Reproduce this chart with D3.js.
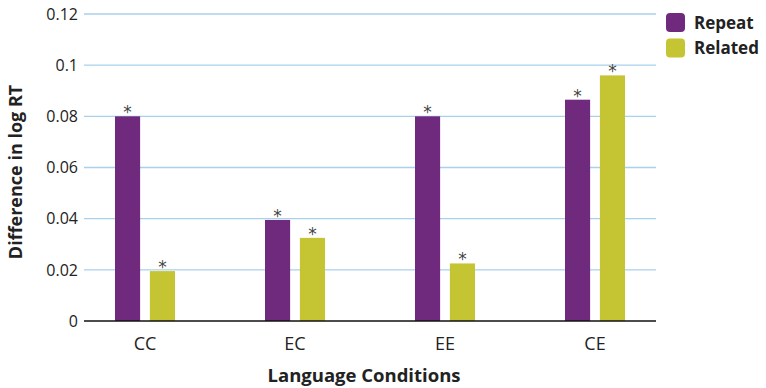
<!DOCTYPE html>
<html>
<head>
<meta charset="utf-8">
<script src="https://cdn.jsdelivr.net/npm/d3@7"></script>
<style>
  html, body { margin: 0; padding: 0; background: #fff; }
  svg { display: block; font-family: "Open Sans", "Noto Sans", sans-serif; }
</style>
</head>
<body>
<svg id="chart" width="766" height="388"></svg>
<script>
// Language conditions on the x axis
const categories = ["CC", "EC", "EE", "CE"];
// Priming effect (difference in log RT) per condition
const repeatValues  = [0.080, 0.0395, 0.080, 0.0865];
const relatedValues = [0.0195, 0.0325, 0.0225, 0.096];
const seriesNames = ["Repeat", "Related"];
const yTicks = [0, 0.02, 0.04, 0.06, 0.08, 0.1, 0.12];
const yTickLabels = ["0", "0.02", "0.04", "0.06", "0.08", "0.1", "0.12"];

const colors = { Repeat: "#6f297d", Related: "#c5c432" };

const svg = d3.select("#chart");

const x = d3.scaleBand().domain(categories).range([70, 670]).paddingInner(0).paddingOuter(0);
const sub = d3.scaleBand().domain(seriesNames).range([0, 60]).paddingInner(0.28);
const y = d3.scaleLinear().domain([0, 0.12]).range([321, 14]);

const gridLeft = 84, gridRight = 656;

// horizontal gridlines
svg.append("g")
  .selectAll("line")
  .data(yTicks.filter(d => d > 0))
  .join("line")
  .attr("x1", gridLeft).attr("x2", gridRight)
  .attr("y1", d => y(d)).attr("y2", d => y(d))
  .attr("stroke", "#a9d1ec").attr("stroke-width", 1.3);

// y tick labels
svg.append("g")
  .selectAll("text")
  .data(yTicks)
  .join("text")
  .attr("x", 78)
  .attr("y", d => y(d))
  .attr("dy", "0.36em")
  .attr("text-anchor", "end")
  .attr("font-size", 16)
  .attr("fill", "#222")
  .text((d, i) => yTickLabels[i]);

// bars
const rows = categories.map((c, i) => ({ cat: c, values: [
  { key: "Repeat", value: repeatValues[i] },
  { key: "Related", value: relatedValues[i] }
]}));

const groups = svg.append("g")
  .selectAll("g")
  .data(rows)
  .join("g")
  .attr("transform", d => `translate(${x(d.cat) + (x.bandwidth() - 60) / 2},0)`);

groups.selectAll("rect")
  .data(d => d.values)
  .join("rect")
  .attr("x", d => sub(d.key))
  .attr("width", sub.bandwidth())
  .attr("y", d => y(d.value))
  .attr("height", d => y(0) - y(d.value))
  .attr("fill", d => colors[d.key]);

// significance markers
groups.selectAll("text.sig")
  .data(d => d.values)
  .join("text")
  .attr("class", "sig")
  .attr("x", d => sub(d.key) + sub.bandwidth() / 2)
  .attr("y", d => y(d.value) + 2)
  .attr("text-anchor", "middle")
  .attr("font-size", 17)
  .attr("font-family", "DejaVu Sans, sans-serif")
  .attr("fill", "#444")
  .text("*");

// baseline
svg.append("line")
  .attr("x1", gridLeft).attr("x2", gridRight)
  .attr("y1", y(0)).attr("y2", y(0))
  .attr("stroke", "#111").attr("stroke-width", 1.5);

// x category labels
const xAxis = d3.axisBottom(x).tickSize(0).tickPadding(0);
const xg = svg.append("g").attr("transform", `translate(0,${y(0)})`).call(xAxis);
xg.select(".domain").remove();
xg.selectAll("text")
  .attr("y", 29)
  .attr("dy", 0)
  .attr("font-size", 18)
  .attr("font-family", "Open Sans, sans-serif")
  .attr("fill", "#222");

// axis titles
svg.append("text")
  .attr("x", 364).attr("y", 382)
  .attr("text-anchor", "middle")
  .attr("font-size", 18.5).attr("font-weight", "bold")
  .attr("fill", "#222")
  .text("Language Conditions");

svg.append("text")
  .attr("transform", "translate(22,172) rotate(-90)")
  .attr("text-anchor", "middle")
  .attr("font-size", 18).attr("font-weight", "bold")
  .attr("fill", "#222")
  .text("Difference in log RT");

// legend
const legend = svg.append("g")
  .selectAll("g")
  .data(seriesNames)
  .join("g")
  .attr("transform", (d, i) => `translate(666,${13 + i * 25.5})`);
legend.append("rect")
  .attr("width", 19).attr("height", 19).attr("rx", 4)
  .attr("fill", d => colors[d]);
legend.append("text")
  .attr("x", 28).attr("y", 15.5)
  .attr("font-size", 17).attr("font-weight", "bold")
  .attr("fill", "#222")
  .text(d => d);
</script>
</body>
</html>
